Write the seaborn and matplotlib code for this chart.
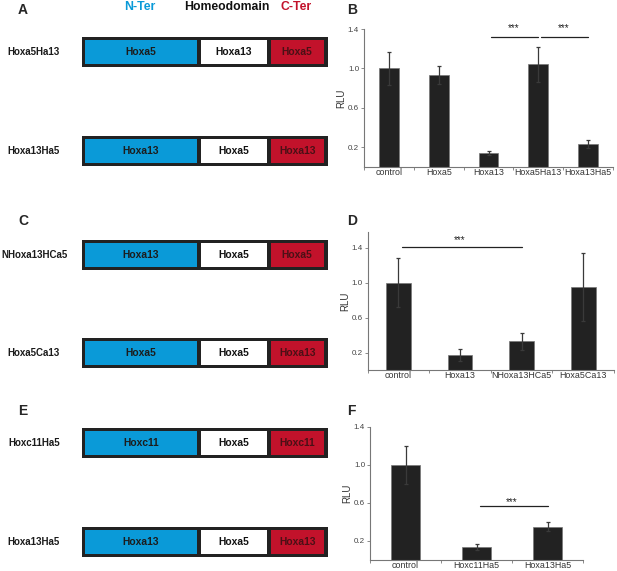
import numpy as np
import pandas as pd
import matplotlib.pyplot as plt
from matplotlib.patches import Rectangle
import seaborn as sns

# construct diagrams (left column)
construct_names = ["Hoxa5Ha13", "Hoxa13Ha5", "NHoxa13HCa5", "Hoxa5Ca13", "Hoxc11Ha5", "Hoxa13Ha5"]
nter_domains = ["Hoxa5", "Hoxa13", "Hoxa13", "Hoxa5", "Hoxc11", "Hoxa13"]
homeo_domains = ["Hoxa13", "Hoxa5", "Hoxa5", "Hoxa5", "Hoxa5", "Hoxa5"]
cter_domains = ["Hoxa5", "Hoxa13", "Hoxa5", "Hoxa13", "Hoxc11", "Hoxa13"]
left_letters = ["A", "C", "E"]
right_letters = ["B", "D", "F"]

# luciferase assays (right column)
b_labels = ["control", "Hoxa5", "Hoxa13", "Hoxa5Ha13", "Hoxa13Ha5"]
b_values = [1.0, 0.93, 0.14, 1.04, 0.23]
b_errors = [0.17, 0.09, 0.02, 0.18, 0.04]
b_sig = [(2, 3), (3, 4)]

d_labels = ["control", "Hoxa13", "NHoxa13HCa5", "Hoxa5Ca13"]
d_values = [1.0, 0.17, 0.33, 0.95]
d_errors = [0.28, 0.07, 0.10, 0.39]
d_sig = [(0, 2)]

f_labels = ["control", "Hoxc11Ha5", "Hoxa13Ha5"]
f_values = [1.0, 0.14, 0.35]
f_errors = [0.20, 0.03, 0.05]
f_sig = [(1, 2)]

y_ticks = [0.2, 0.6, 1.0, 1.4]

BLUE = "#0a9ad8"
RED = "#c2122b"
DARK = "#222222"

sns.set_style("ticks")
plt.rcParams["font.family"] = ["Liberation Sans", "DejaVu Sans"]

fig = plt.figure(figsize=(6.17, 5.71), dpi=100)

# ---- left: schematic constructs, drawn on a pixel canvas ----
canvas = fig.add_axes([0, 0, 1, 1], zorder=0)
canvas.set_xlim(0, 617)
canvas.set_ylim(571, 0)
canvas.axis("off")

canvas.text(140, 7, "N-Ter", color=BLUE, fontsize=8.8, fontweight="bold", ha="center", va="center")
canvas.text(227, 7, "Homeodomain", color="#111111", fontsize=8.8, fontweight="bold", ha="center", va="center")
canvas.text(296, 7, "C-Ter", color=RED, fontsize=8.8, fontweight="bold", ha="center", va="center")

row_tops = [37, 136, 240, 338, 428, 527]
letter_y = [10, 221, 411]
for letter, ly in zip(left_letters, letter_y):
    canvas.text(23, ly, letter, fontsize=10, fontweight="bold", ha="center", va="center")

box_x0, box_x1, box_h, inset = 81.5, 327.5, 30, 3
segments = [(85, 197), (201, 267), (270.5, 324)]
seg_colors = [BLUE, "white", RED]
seg_text = ["#1c1c1c", "#111111", "#4a1016"]
for i, name in enumerate(construct_names):
    top = row_tops[i]
    canvas.text(34, top + box_h / 2, name, fontsize=7, fontweight="bold",
                ha="center", va="center", color="#1a1a1a")
    canvas.add_patch(Rectangle((box_x0, top), box_x1 - box_x0, box_h, color=DARK, lw=0))
    texts = [nter_domains[i], homeo_domains[i], cter_domains[i]]
    for (s0, s1), col, tc, txt in zip(segments, seg_colors, seg_text, texts):
        canvas.add_patch(Rectangle((s0, top + inset), s1 - s0, box_h - 2 * inset, color=col, lw=0))
        canvas.text((s0 + s1) / 2, top + box_h / 2, txt, fontsize=7.4, fontweight="bold",
                    ha="center", va="center", color=tc)


# ---- right: bar charts ----
def bar_panel(rect, labels, values, errors, sig, ytop, sig_y, star_y, letter, letter_xy):
    ax = fig.add_axes(rect, zorder=2)
    df = pd.DataFrame({"construct": labels, "RLU": values})
    sns.barplot(data=df, x="construct", y="RLU", color=DARK, saturation=1,
                width=0.4, errorbar=None, edgecolor="#777777", linewidth=0.5, ax=ax)
    ax.errorbar(np.arange(len(labels)), values, yerr=errors, fmt="none",
                ecolor="#3a3a3a", elinewidth=0.9, capsize=1.6, capthick=0.9)
    n = len(labels)
    ax.set_xlim(-0.5, n - 0.5)
    ax.set_ylim(0, ytop)
    ax.set_yticks(y_ticks)
    ax.set_yticklabels([f"{t:.1f}" for t in y_ticks], fontsize=5.8, color="#444444")
    ax.set_xticks(np.arange(n))
    ax.set_xticklabels(labels, fontsize=6.4, color="#333333")
    ax.set_xticks(np.arange(-0.5, n), minor=True)
    ax.tick_params(axis="x", which="major", length=0, pad=0.8)
    ax.tick_params(axis="x", which="minor", length=2.5, width=0.6, color="#777777")
    ax.tick_params(axis="y", length=2, width=0.6, color="#777777", pad=1.5)
    ax.set_xlabel("")
    ax.set_ylabel("RLU", fontsize=7, color="#333333", labelpad=1)
    for side in ["top", "right"]:
        ax.spines[side].set_visible(False)
    for side in ["left", "bottom"]:
        ax.spines[side].set_color("#777777")
        ax.spines[side].set_linewidth(0.8)
    for (i, j), sy, st in zip(sig, sig_y, star_y):
        ax.plot([i + 0.05, j], [sy, sy], color="#222222", lw=0.9, clip_on=False)
        ax.text((i + j) / 2, st, "***", fontsize=7, ha="center", va="center",
                color="#222222", clip_on=False)
    fig.text(letter_xy[0] / 617, 1 - letter_xy[1] / 571, letter, fontsize=10,
             fontweight="bold", ha="center", va="center")
    return ax


bar_panel([364 / 617, 1 - 166.7 / 571, 249 / 617, 137.7 / 571],
          b_labels, b_values, b_errors, b_sig, 1.4, [1.32, 1.32], [1.41, 1.41],
          right_letters[0], (352, 10))
bar_panel([367.7 / 617, 1 - 370 / 571, 246.3 / 617, 138.3 / 571],
          d_labels, d_values, d_errors, d_sig, 1.586, [1.41], [1.49],
          right_letters[1], (352, 221))
bar_panel([370 / 617, 1 - 560 / 571, 213 / 617, 133.3 / 571],
          f_labels, f_values, f_errors, f_sig, 1.4, [0.57], [0.61],
          right_letters[2], (351, 411))

fig.savefig("out.png", dpi=100)
plt.close(fig)
